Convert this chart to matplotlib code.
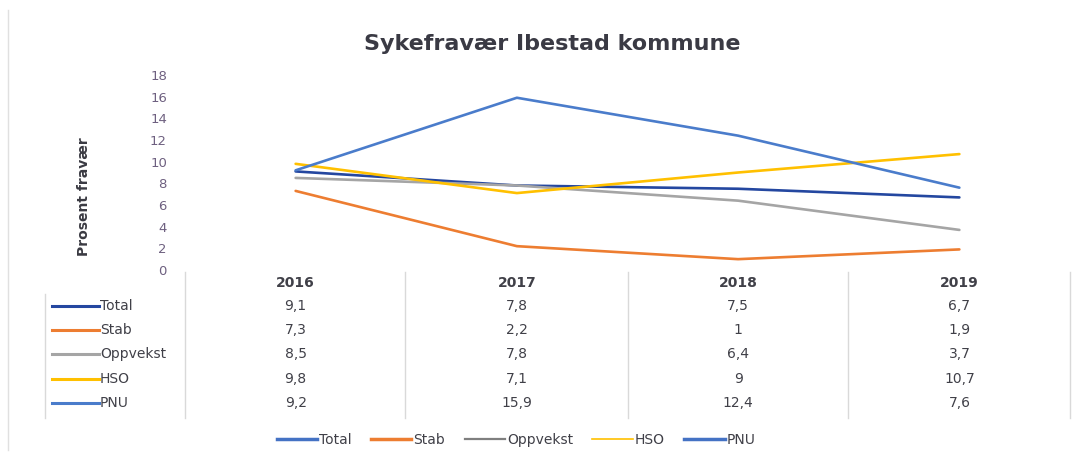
import matplotlib
matplotlib.use("Agg")
import matplotlib.pyplot as plt
from matplotlib.lines import Line2D

years = ["2016", "2017", "2018", "2019"]
series_names = ["Total", "Stab", "Oppvekst", "HSO", "PNU"]
total = [9.1, 7.8, 7.5, 6.7]
stab = [7.3, 2.2, 1.0, 1.9]
oppvekst = [8.5, 7.8, 6.4, 3.7]
hso = [9.8, 7.1, 9.0, 10.7]
pnu = [9.2, 15.9, 12.4, 7.6]
series_values = [total, stab, oppvekst, hso, pnu]
yticks = [0, 2, 4, 6, 8, 10, 12, 14, 16, 18]

line_colors = ["#2447A0", "#ED7D31", "#A5A5A5", "#FFC000", "#4A7CCB"]
legend_colors = ["#4472C4", "#ED7D31", "#7F7F7F", "#FFC000", "#4472C4"]
legend_widths = [2.5, 2.5, 1.6, 1.2, 2.5]

W, H = 1079, 453
fig = plt.figure(figsize=(W / 100, H / 100), dpi=100)

def fx(px):
    return px / W

def fy(py):
    return 1 - py / H

ax_left, ax_right, ax_top, ax_bottom = 185, 1070, 75, 270
ax = fig.add_axes([fx(ax_left), fy(ax_bottom), fx(ax_right - ax_left), (ax_bottom - ax_top) / H])
x = list(range(len(years)))
for vals, c in zip(series_values, line_colors):
    ax.plot(x, vals, color=c, lw=1.9, solid_capstyle="round")
ax.set_xlim(-0.5, len(years) - 0.5)
ax.set_ylim(0, 18)
ax.set_yticks(yticks)
ax.set_yticklabels([str(t) for t in yticks], color="#6E6080", fontsize=9.5)
ax.tick_params(axis="y", length=0, pad=13)
ax.set_xticks([])
for s in ax.spines.values():
    s.set_visible(False)

fig.text(fx(552), fy(44), "Sykefravær Ibestad kommune", ha="center", va="center",
         fontsize=16, fontweight="bold", color="#3A3A44", family="DejaVu Sans")
fig.text(fx(84), fy(197), "Prosent fravær", rotation=90, ha="center", va="center",
         fontsize=10, fontweight="bold", color="#3A3A42", family="DejaVu Sans")

# data table
col_centers = [ax.transData.transform((i, 0))[0] for i in x]
col_edges = [185, 405, 628, 848, 1070]
for ex in col_edges:
    fig.add_artist(Line2D([fx(ex), fx(ex)], [fy(272), fy(418)], color="#D9D9D9", lw=1))
fig.add_artist(Line2D([fx(45), fx(45)], [fy(294), fy(418)], color="#D9D9D9", lw=1))

header_y = 283
row_ys = [306, 330, 354, 379, 403]
for cx, yr in zip(col_centers, years):
    fig.text(cx / W, fy(header_y), yr, ha="center", va="center", fontsize=10,
             fontweight="bold", color="#404048")
for ry, name, vals, c in zip(row_ys, series_names, series_values, line_colors):
    fig.add_artist(Line2D([fx(52), fx(99)], [fy(ry), fy(ry)], color=c, lw=2.2))
    fig.text(fx(100), fy(ry), name, ha="left", va="center", fontsize=10, color="#404048")
    for cx, v in zip(col_centers, vals):
        s = f"{v:g}".replace(".", ",")
        fig.text(cx / W, fy(ry), s, ha="center", va="center", fontsize=10, color="#404048")

handles = [Line2D([], [], color=c, lw=lw) for c, lw in zip(legend_colors, legend_widths)]
fig.legend(handles, series_names, loc="center", bbox_to_anchor=(fx(516), fy(440)), ncol=5,
           frameon=False, fontsize=10, handlelength=2.9, handletextpad=0.15, columnspacing=1.4,
           labelcolor="#404048")

fig.add_artist(Line2D([fx(8), fx(8)], [fy(10), fy(450)], color="#E0E0E0", lw=1))

fig.savefig("out.png", dpi=100, facecolor="white")
